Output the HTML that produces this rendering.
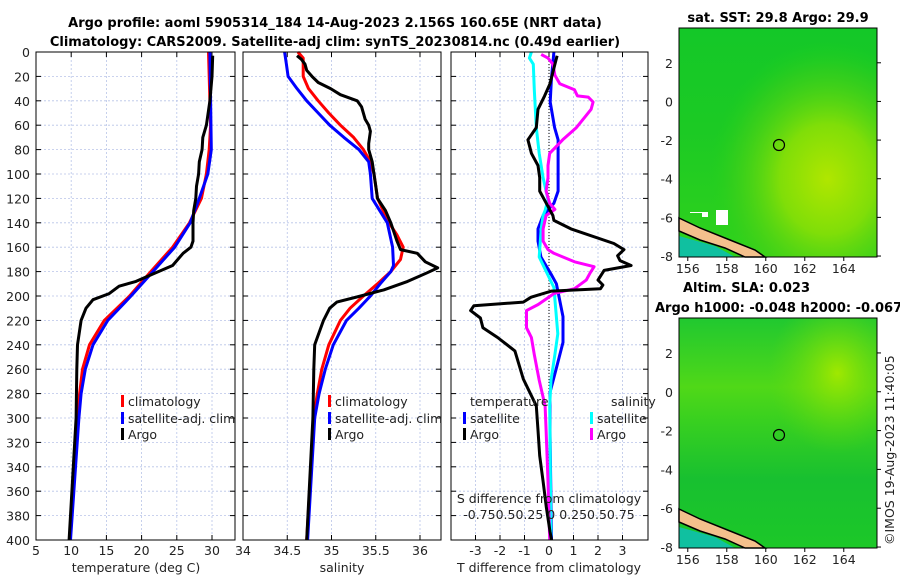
<!DOCTYPE html>
<html><head><meta charset="utf-8">
<style>
html,body{margin:0;padding:0;background:#fff;}
svg{display:block;font-family:"DejaVu Sans","Liberation Sans",sans-serif;}
.t{font-size:12.5px;fill:#222;}
.b{font-size:13px;font-weight:bold;fill:#000;}
</style></head><body>
<svg id="fig" width="900" height="580" viewBox="0 0 900 580" xmlns="http://www.w3.org/2000/svg">
<defs>
<radialGradient id="sstY" cx="0.75" cy="0.66" r="0.6"><stop offset="0" stop-color="#b0e600"/><stop offset="0.4" stop-color="#80de08"/><stop offset="0.8" stop-color="#40d018" stop-opacity="0.5"/><stop offset="1" stop-color="#22d21a" stop-opacity="0"/></radialGradient>
<linearGradient id="sstTop" x1="0" y1="0" x2="0" y2="1"><stop offset="0" stop-color="#14c828"/><stop offset="0.45" stop-color="#1cca24"/><stop offset="1" stop-color="#30d21c"/></linearGradient>
<linearGradient id="slaBase" x1="0" y1="0" x2="0" y2="1"><stop offset="0" stop-color="#20c830"/><stop offset="0.3" stop-color="#50d818"/><stop offset="0.45" stop-color="#38d020"/><stop offset="0.7" stop-color="#18c030"/><stop offset="1" stop-color="#1cc828"/></linearGradient>
<radialGradient id="slaY" cx="0.8" cy="0.24" r="0.35"><stop offset="0" stop-color="#a0e800"/><stop offset="1" stop-color="#60d810" stop-opacity="0"/></radialGradient>
</defs>
<text class="b" x="335" y="27" text-anchor="middle">Argo profile: aoml 5905314_184 14-Aug-2023 2.156S 160.65E (NRT data)</text>
<text class="b" x="335" y="46" text-anchor="middle">Climatology: CARS2009. Satellite-adj clim: synTS_20230814.nc (0.49d earlier)</text>
<g id="p1"></g>
<g id="p2"></g>
<g id="p3"></g>
<g id="maps">
 <text class="b" x="778" y="22" text-anchor="middle">sat. SST: 29.8 Argo: 29.9</text>
 <rect x="679" y="28" width="198" height="229" fill="url(#sstTop)"/>
 <rect x="679" y="28" width="198" height="229" fill="url(#sstY)"/>
 <path d="M679,236 L679,257 L735,257 L715,246 Z" fill="#10c0a0"/>
 <path d="M679,218 L700,228 L730,240 L755,250 L765,257 L745,257 L725,248 L700,240 L679,231 Z" fill="#f4c08c" stroke="#000" stroke-width="1.5"/>
 <path d="M684,216 h6 v-4 h18 v5 h-6 v-4 h-12 v3 Z M716,210 h12 v15 h-12 Z" fill="#fff"/>
 <circle cx="779" cy="145" r="5.5" fill="none" stroke="#000" stroke-width="1.2"/>
 <rect x="679" y="28" width="198" height="229" fill="none" stroke="#000"/>
 <text class="b" x="683" y="292">Altim. SLA: 0.023</text>
 <text class="b" x="655" y="312">Argo h1000: -0.048 h2000: -0.067</text>
 <rect x="679" y="318" width="198" height="230" fill="url(#slaBase)"/>
 <rect x="679" y="318" width="198" height="230" fill="url(#slaY)"/>
 <path d="M679,527 L679,548 L735,548 L715,537 Z" fill="#10c0a0"/>
 <path d="M679,509 L700,519 L730,531 L755,541 L765,548 L745,548 L725,539 L700,531 L679,522 Z" fill="#f4c08c" stroke="#000" stroke-width="1.5"/>
 <circle cx="779" cy="435" r="5.5" fill="none" stroke="#000" stroke-width="1.2"/>
 <rect x="679" y="318" width="198" height="230" fill="none" stroke="#000"/>
 <text class="t" transform="translate(894,545) rotate(-90)">©IMOS 19-Aug-2023 11:40:05</text>
</g>
</svg>
<script>
// ---- data ----
const tClimDepth=[0,60,80,100,120,140,160,180,200,220,240,260,280,300,400];
const tClimVal=[29.5,29.8,29.6,29.2,28.5,26.8,24.4,21.3,18.3,14.7,12.6,11.6,11.2,10.9,9.8];
const tSatDepth=[0,80,100,120,140,160,180,200,220,240,260,280,300,400];
const tSatVal=[29.7,29.9,29.4,28.2,26.9,24.7,21.6,18.5,15.2,13.1,12.0,11.4,11.1,9.9];
const tArgoDepth=[3,20,40,60,70,80,90,100,110,120,130,140,155,160,165,175,182,188,192,198,203,210,220,240,260,300,400];
const tArgoVal=[30.1,30.0,29.7,29.2,28.7,28.6,28.2,28.1,27.8,27.7,27.4,27.3,27.3,27.0,25.9,24.4,21.6,19.2,16.8,15.4,13.1,12.1,11.4,10.9,10.8,10.7,9.7];
const sClimDepth=[0,5,20,30,40,50,60,70,80,90,100,120,140,150,160,170,180,190,200,210,220,240,260,280,300,400];
const sClimVal=[34.62,34.68,34.68,34.74,34.85,34.97,35.1,35.25,35.36,35.44,35.48,35.52,35.65,35.74,35.81,35.78,35.67,35.52,35.36,35.21,35.1,34.97,34.89,34.84,34.8,34.72];
const sSatDepth=[0,10,20,30,40,50,60,70,80,90,100,120,140,160,175,180,190,200,210,220,240,260,280,300,400];
const sSatVal=[34.47,34.49,34.51,34.61,34.72,34.85,34.98,35.14,35.31,35.42,35.44,35.46,35.63,35.69,35.7,35.67,35.55,35.44,35.31,35.17,35.02,34.93,34.86,34.81,34.73];
const sArgoDepth=[3,6,10,15,20,25,30,35,40,45,55,60,65,75,80,90,100,110,120,130,140,155,162,165,172,177,181,188,195,200,205,210,220,240,260,300,400];
const sArgoVal=[34.61,34.66,34.70,34.72,34.78,34.85,34.99,35.1,35.29,35.34,35.38,35.42,35.44,35.42,35.42,35.46,35.48,35.5,35.52,35.61,35.67,35.74,35.78,35.97,36.06,36.2,36.08,35.86,35.59,35.33,35.06,34.98,34.91,34.81,34.8,34.79,34.72];
const dTArgoDepth=[3,10,26,36,47,62,72,83,93,103,114,124,134,138,145,157,162,167,171,175,179,187,191,194,196,201,205,208,212,218,226,234,245,268,290,310,331,352,373,393,400];
const dTArgoVal=[0.33,0.24,0.04,-0.18,-0.45,-0.52,-0.86,-0.72,-0.45,-0.38,-0.38,-0.11,0.16,0.2,0.9,2.65,3.06,2.8,2.9,3.35,2.25,2.0,2.2,2.1,0.1,-0.73,-1.05,-3.07,-3.2,-2.8,-2.7,-2.1,-1.39,-1.05,-0.52,-0.45,-0.38,-0.24,-0.11,0.04,0.1];
const dTSatDepth=[0,21,41,62,72,83,103,114,124,134,145,155,168,182,190,217,238,259,279,310,400];
const dTSatVal=[0.2,0.1,0.05,0.23,0.37,0.37,0.37,0.37,0.2,-0.24,-0.45,-0.45,-0.33,0.08,0.3,0.57,0.57,0.3,0.04,0.04,0.1];
const dSSatDepth=[0,5,10,31,62,83,103,121,130,134,145,168,193,231,248,269,290,400];
const dSSatVal=[-0.18,-0.2,-0.16,-0.15,-0.13,-0.1,-0.06,-0.01,-0.04,-0.06,-0.08,-0.1,0.05,0.09,0.06,0.02,0.007,0.02];
const dSArgoDepth=[2,5,10,19,26,31,36,37,41,47,52,62,72,83,93,103,114,124,129,134,145,155,162,165,172,176,181,187,194,198,207,212,226,234,248,269,290,310,352,400];
const dSArgoVal=[-0.08,-0.01,0.04,0.06,0.11,0.26,0.29,0.4,0.45,0.43,0.38,0.28,0.14,0.007,-0.01,-0.01,-0.03,0.007,0.06,-0.03,-0.06,-0.06,-0.01,0.05,0.26,0.46,0.42,0.38,0.26,0.05,-0.11,-0.23,-0.23,-0.18,-0.15,-0.1,-0.04,-0.03,-0.01,0.007];
const depthTicks=[0,20,40,60,80,100,120,140,160,180,200,220,240,260,280,300,320,340,360,380,400];
const tempTicks=[5,10,15,20,25,30];
const salTicks=[34,34.5,35,35.5,36];
const dTTicks=[-3,-2,-1,0,1,2,3];
const latTicks=[2,0,-2,-4,-6,-8];
const lonTicks=[156,158,160,162,164];

const NS='http://www.w3.org/2000/svg';
const Y0=52,Y1=540;
const yD=d=>Y0+(d/400)*(Y1-Y0);
function mk(parent,tag,attrs){const e=document.createElementNS(NS,tag);for(const k in attrs)e.setAttribute(k,attrs[k]);parent.appendChild(e);return e;}
function txt(parent,x,y,s,anchor,cls){const e=mk(parent,'text',{x:x,y:y,'text-anchor':anchor||'start',class:cls||'t'});e.textContent=s;return e;}

function panel(g,L,R,xTicks,xf,xLabels,yLabels){
  mk(g,'rect',{x:L,y:Y0,width:R-L,height:Y1-Y0,fill:'#fff'});
  depthTicks.forEach(d=>{
    mk(g,'line',{x1:L,x2:R,y1:yD(d),y2:yD(d),stroke:'#b8c4e8','stroke-width':0.8,'stroke-dasharray':'2,2'});
    mk(g,'line',{x1:L,x2:L+5,y1:yD(d),y2:yD(d),stroke:'#000'});
    mk(g,'line',{x1:R-5,x2:R,y1:yD(d),y2:yD(d),stroke:'#000'});
    if(yLabels){const t=txt(g,30,yD(d)+5,String(d),'end');
      
      }
  });
  xTicks.forEach(v=>{const x=xf(v);
    mk(g,'line',{x1:x,x2:x,y1:Y0,y2:Y1,stroke:'#b8c4e8','stroke-width':0.8,'stroke-dasharray':'2,2'});
    mk(g,'line',{x1:x,x2:x,y1:Y0,y2:Y0+5,stroke:'#000'});
    mk(g,'line',{x1:x,x2:x,y1:Y1-5,y2:Y1,stroke:'#000'});
    if(xLabels){const t=txt(g,x,555,String(v),'middle');
      
      }
  });
}
function series(g,ds,vs,xf,color,name){
  const p=ds.map((d,i)=>xf(vs[i]).toFixed(1)+','+yD(d).toFixed(1)).join(' ');
  const e=mk(g,'polyline',{points:p,fill:'none',stroke:color,'stroke-width':3,'stroke-linejoin':'round'});
  
  
}
function frame(g,L,R){mk(g,'rect',{x:L,y:Y0,width:R-L,height:Y1-Y0,fill:'none',stroke:'#000','stroke-width':1});}
function legend(g,x,y,color,label){
  mk(g,'rect',{x:x,y:y-6,width:3,height:12,fill:color});
  const t=txt(g,x+7,y+5,label,'start');
  
  
}

// panel 1 temperature
const p1=document.getElementById('p1');
const xT=v=>36+(v-5)*7.04;
panel(p1,36,235,tempTicks,xT,true,true);
series(p1,tClimDepth,tClimVal,xT,'#f00','temp-climatology-line');
series(p1,tSatDepth,tSatVal,xT,'#00f','temp-satellite-line');
series(p1,tArgoDepth,tArgoVal,xT,'#000','temp-argo-line');
frame(p1,36,235);
legend(p1,121,401,'#f00','climatology');legend(p1,121,418,'#00f','satellite-adj. clim');legend(p1,121,434,'#000','Argo');
txt(p1,136,572,'temperature (deg C)','middle');

// panel 2 salinity
const p2=document.getElementById('p2');
const xS=v=>243+(v-34)*88.5;
panel(p2,243,441,salTicks,xS,true,false);
series(p2,sClimDepth,sClimVal,xS,'#f00','sal-climatology-line');
series(p2,sSatDepth,sSatVal,xS,'#00f','sal-satellite-line');
series(p2,sArgoDepth,sArgoVal,xS,'#000','sal-argo-line');
frame(p2,243,441);
legend(p2,328,401,'#f00','climatology');legend(p2,328,418,'#00f','satellite-adj. clim');legend(p2,328,434,'#000','Argo');
txt(p2,342,572,'salinity','middle');

// panel 3 differences
const p3=document.getElementById('p3');
const xDT=v=>549+v*24.5;
const xDS=v=>549+v*98;
panel(p3,451,648,dTTicks,xDT,true,false);
mk(p3,'line',{x1:549,x2:549,y1:Y0,y2:Y1,stroke:'#000','stroke-width':1,'stroke-dasharray':'1,2'});
series(p3,dTSatDepth,dTSatVal,xDT,'#00f','dT-satellite-line');
series(p3,dSSatDepth,dSSatVal,xDS,'#0ff','dS-satellite-line');
series(p3,dSArgoDepth,dSArgoVal,xDS,'#f0f','dS-argo-line');
series(p3,dTArgoDepth,dTArgoVal,xDT,'#000','dT-argo-line');
frame(p3,451,648);
txt(p3,470,406,'temperature','start');txt(p3,611,406,'salinity','start');
legend(p3,463,418,'#00f','satellite');legend(p3,463,434,'#000','Argo');
legend(p3,590,418,'#0ff','satellite');legend(p3,590,434,'#f0f','Argo');
txt(p3,549,503,'S difference from climatology','middle');
txt(p3,549,519,'-0.750.50.25 0  0.250.50.75','middle');
txt(p3,549,572,'T difference from climatology','middle');

// map ticks
const maps=document.getElementById('maps');
function mapAxes(top,bot){
  const yL=v=>top+(3.8-v)/(3.8+8.05)*(bot-top);
  latTicks.forEach(v=>{const y=yL(v);
    mk(maps,'line',{x1:877,x2:881,y1:y,y2:y,stroke:'#000'});
    const t=txt(maps,673,y+5,String(v),'end');
    
    });
  lonTicks.forEach(v=>{const x=679+(v-155.55)*19.5;
    mk(maps,'line',{x1:x,x2:x,y1:bot,y2:bot+4,stroke:'#000'});
    const t=txt(maps,x,bot+16,String(v),'middle');
    
    });
}
mapAxes(28,257);mapAxes(318,548);
</script>
</body></html>
